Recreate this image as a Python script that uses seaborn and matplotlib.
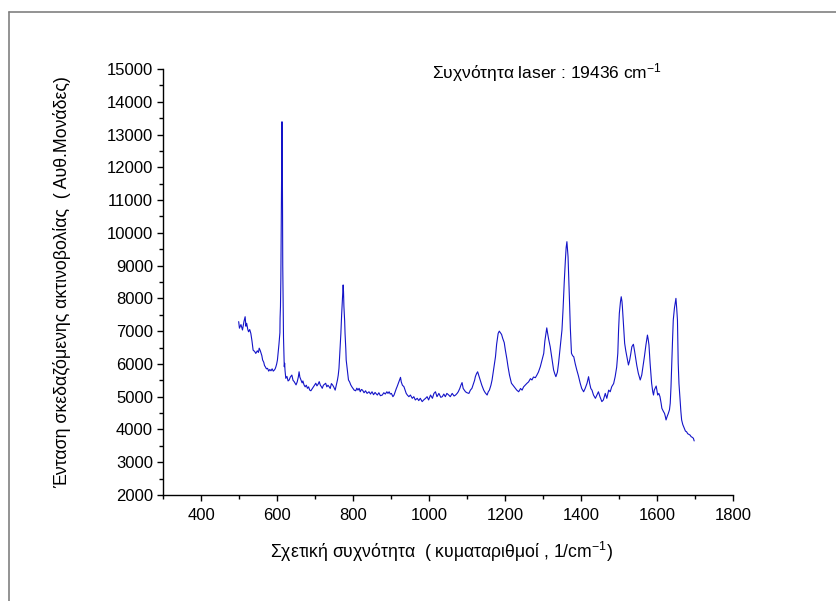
import matplotlib
matplotlib.use("Agg")
import matplotlib.pyplot as plt
import seaborn as sns
import pandas as pd
from matplotlib.lines import Line2D
from matplotlib.ticker import MultipleLocator, FixedLocator

# ---- data (Raman shift, intensity) ----
wavenumber = [
    498, 500, 504, 508, 512, 515, 517, 519, 522, 524, 527, 530, 533, 536, 540, 543, 547, 550, 552, 555,
    557, 559, 561, 564, 566, 568, 571, 574, 577, 580, 583, 586, 589, 592, 594, 596, 598, 600, 602, 604,
    605, 606.5, 607, 608, 609, 610, 611, 612, 613, 613.5, 614, 615, 616, 618, 619, 620, 622, 625, 628, 631,
    634, 638, 641, 644, 647, 649, 652, 655, 657, 659, 662, 665, 667, 670, 673, 676, 679, 682, 685, 688,
    692, 695, 698, 701, 704, 707, 710, 713, 716, 718, 721, 724, 727, 730, 733, 736, 739, 742, 745, 748,
    750, 752, 755, 758, 760, 762, 764, 767, 769, 771, 773, 774, 775, 777, 778, 780, 781, 784, 787, 790,
    793, 796, 799, 802, 806, 809, 812, 815, 818, 821, 824, 828, 832, 836, 841, 845, 849, 853, 857, 859,
    863, 867, 871, 876, 880, 884, 888, 891, 894, 897, 900, 904, 907, 910, 913, 915, 918, 921, 924, 926,
    929, 933, 936, 939, 942, 946, 950, 955, 959, 963, 968, 972, 976, 981, 985, 990, 994, 998, 1003, 1008,
    1012, 1016, 1020, 1025, 1030, 1034, 1038, 1042, 1046, 1051, 1055, 1060, 1065, 1069, 1073, 1076, 1080, 1083, 1086, 1089,
    1092, 1095, 1099, 1104, 1108, 1112, 1116, 1119, 1121, 1124, 1127, 1130, 1134, 1138, 1143, 1147, 1152, 1155, 1158, 1162,
    1165, 1168, 1171, 1174, 1177, 1181, 1184, 1187, 1190, 1193, 1197, 1200, 1204, 1207, 1211, 1216, 1220, 1226, 1230, 1235,
    1240, 1244, 1248, 1252, 1257, 1261, 1266, 1270, 1274, 1279, 1283, 1287, 1292, 1296, 1301, 1304, 1307, 1309, 1311, 1314,
    1318, 1322, 1327, 1330, 1333, 1337, 1340, 1345, 1349, 1352, 1355, 1358, 1360, 1362, 1363.5, 1365, 1367, 1369, 1371, 1374,
    1377, 1380, 1384, 1388, 1392, 1397, 1401, 1406, 1410, 1415, 1419, 1422, 1425, 1428, 1432, 1437, 1441, 1445, 1449, 1454,
    1458, 1463, 1467, 1472, 1476, 1480, 1485, 1489, 1493, 1496, 1498, 1500, 1503, 1505, 1507, 1508, 1511, 1514, 1517, 1520,
    1524, 1527, 1530, 1533, 1537, 1540, 1543, 1546, 1550, 1555, 1559, 1562, 1566, 1570, 1574, 1576, 1578, 1581, 1585, 1588,
    1590, 1592, 1597, 1601, 1604, 1607, 1610, 1612, 1616, 1619, 1621, 1623, 1626, 1629, 1632, 1634, 1636, 1638, 1640, 1642,
    1645, 1647, 1649, 1651, 1653, 1655, 1657, 1660, 1662, 1664, 1667, 1671, 1674, 1677, 1680, 1683, 1686, 1689, 1692, 1695,
    1697,
]
intensity = [
    7290, 7090, 7200, 7035, 7300, 7440, 7150, 7240, 7050, 6980, 7050, 6930, 6700, 6420, 6380, 6320, 6400, 6350, 6480, 6400,
    6320, 6250, 6120, 6050, 5950, 5915, 5850, 5865, 5780, 5830, 5790, 5850, 5780, 5815, 5850, 5915, 6000, 6120, 6350, 6600,
    6730, 6950, 7400, 7750, 8600, 10000, 11800, 13390, 12000, 10300, 9000, 7750, 6800, 5915, 6020, 5800, 5560, 5620, 5480, 5510,
    5600, 5660, 5500, 5460, 5400, 5360, 5450, 5600, 5760, 5600, 5510, 5420, 5480, 5360, 5300, 5350, 5255, 5300, 5200, 5180,
    5250, 5300, 5350, 5410, 5330, 5380, 5460, 5350, 5300, 5255, 5350, 5380, 5410, 5300, 5350, 5305, 5250, 5400, 5360, 5300,
    5250, 5200, 5350, 5510, 5650, 5865, 6300, 6930, 7500, 7950, 8410, 8200, 7750, 7300, 6930, 6450, 6120, 5800, 5510, 5450,
    5360, 5300, 5250, 5200, 5180, 5260, 5200, 5255, 5150, 5220, 5200, 5120, 5180, 5100, 5150, 5080, 5150, 5060, 5130, 5100,
    5050, 5120, 5030, 5050, 5120, 5080, 5150, 5100, 5150, 5080, 5100, 5000, 5050, 5150, 5250, 5305, 5400, 5500, 5590, 5450,
    5350, 5305, 5200, 5100, 5050, 5000, 5050, 4950, 5000, 4900, 4950, 4880, 4950, 4850, 4900, 4950, 5000, 4900, 5050, 4950,
    5100, 5150, 5000, 5100, 4980, 5000, 5080, 5000, 5100, 5050, 5000, 5100, 5020, 5050, 5100, 5150, 5250, 5350, 5430, 5250,
    5200, 5150, 5120, 5100, 5200, 5255, 5400, 5500, 5610, 5700, 5760, 5650, 5510, 5350, 5200, 5120, 5050, 5150, 5200, 5350,
    5510, 5750, 6000, 6220, 6600, 6930, 7000, 6950, 6900, 6780, 6650, 6420, 6150, 5915, 5650, 5410, 5350, 5255, 5200, 5150,
    5250, 5200, 5300, 5350, 5410, 5450, 5550, 5510, 5600, 5580, 5660, 5750, 5915, 6100, 6320, 6700, 6950, 7100, 6950, 6750,
    6525, 6200, 5815, 5700, 5610, 5750, 6020, 6600, 7035, 7700, 8500, 9171, 9550, 9730, 9500, 9272, 8600, 7850, 7100, 6324,
    6250, 6220, 6000, 5815, 5650, 5410, 5250, 5150, 5250, 5410, 5610, 5400, 5250, 5200, 5050, 4950, 5050, 5150, 5000, 4850,
    4900, 5100, 4950, 5200, 5150, 5305, 5400, 5610, 5900, 6324, 7035, 7545, 7900, 8050, 7900, 7750, 7200, 6630, 6400, 6220,
    5967, 6100, 6300, 6525, 6600, 6400, 6170, 5950, 5714, 5510, 5660, 5900, 6220, 6577, 6880, 6750, 6577, 6020, 5410, 5150,
    5050, 5200, 5325, 5050, 5100, 5000, 4800, 4645, 4550, 4490, 4400, 4290, 4400, 4490, 4600, 4800, 5300, 6020, 6700, 7340,
    7700, 7850, 8000, 7700, 7340, 6020, 5400, 4900, 4550, 4290, 4150, 4035, 3950, 3930, 3870, 3850, 3830, 3780, 3760, 3730,
    3650,
]

x_ticks = [400, 600, 800, 1000, 1200, 1400, 1600, 1800]
y_ticks = [2000, 3000, 4000, 5000, 6000, 7000, 8000, 9000, 10000, 11000, 12000, 13000, 14000, 15000]

x_label = "Σχετική συχνότητα  ( κυματαριθμοί , 1/cm$^{-1}$)"
y_label = "Ένταση σκεδαζόμενης ακτινοβολίας  ( Αυθ.Μονάδες)"
note = "Συχνότητα laser : 19436 cm$^{-1}$"

df = pd.DataFrame({"x": wavenumber, "y": intensity})

sns.set_theme(style="ticks")
plt.rcParams["font.family"] = ["Liberation Sans", "DejaVu Sans"]
plt.rcParams["mathtext.fontset"] = "custom"
plt.rcParams["mathtext.rm"] = "Liberation Sans"
plt.rcParams["mathtext.it"] = "Liberation Sans"
plt.rcParams["mathtext.bf"] = "Liberation Sans"

fig = plt.figure(figsize=(8.37, 6.01), dpi=100)
ax = fig.add_axes([0.1953, 0.1764, 0.6808, 0.7088])

sns.lineplot(data=df, x="x", y="y", ax=ax, sort=False, estimator=None,
             color="#1414c8", linewidth=0.8)

ax.set_xlim(300, 1800)
ax.set_ylim(2000, 15000)
ax.xaxis.set_major_locator(FixedLocator(x_ticks))
ax.xaxis.set_minor_locator(MultipleLocator(100))
ax.yaxis.set_major_locator(FixedLocator(y_ticks))
ax.yaxis.set_minor_locator(MultipleLocator(500))
ax.set_xticklabels([str(v) for v in x_ticks])
ax.set_yticklabels([str(v) for v in y_ticks])

for side in ["top", "right"]:
    ax.spines[side].set_visible(False)
for side in ["left", "bottom"]:
    ax.spines[side].set_color("black")
    ax.spines[side].set_linewidth(1.0)

ax.tick_params(axis="both", which="major", direction="out", length=4.5, width=1.0,
               color="black", labelsize=12, labelcolor="black", pad=3)
ax.tick_params(axis="both", which="minor", direction="out", length=3, width=1.0, color="black")
ax.tick_params(axis="x", which="major", pad=5)

ax.set_xlabel(x_label, fontsize=12.7, color="black", va="center")
ax.set_ylabel(y_label, fontsize=12.8, color="black", va="center")
ax.xaxis.set_label_coords(0.487, -0.134)
ax.yaxis.set_label_coords(-0.178, 0.5)

ax.text(0.471, 0.979, note, transform=ax.transAxes, fontsize=12.5, ha="left",
        va="baseline", color="black")

# grey frame lines of the original page
fig.add_artist(Line2D([9 / 837, 1.0], [1 - 12 / 601, 1 - 12 / 601], color="#808080", linewidth=1.2))
fig.add_artist(Line2D([9 / 837, 9 / 837], [0.0, 1 - 12 / 601], color="#808080", linewidth=1.2))

fig.savefig("out.png", dpi=100, facecolor="white")
